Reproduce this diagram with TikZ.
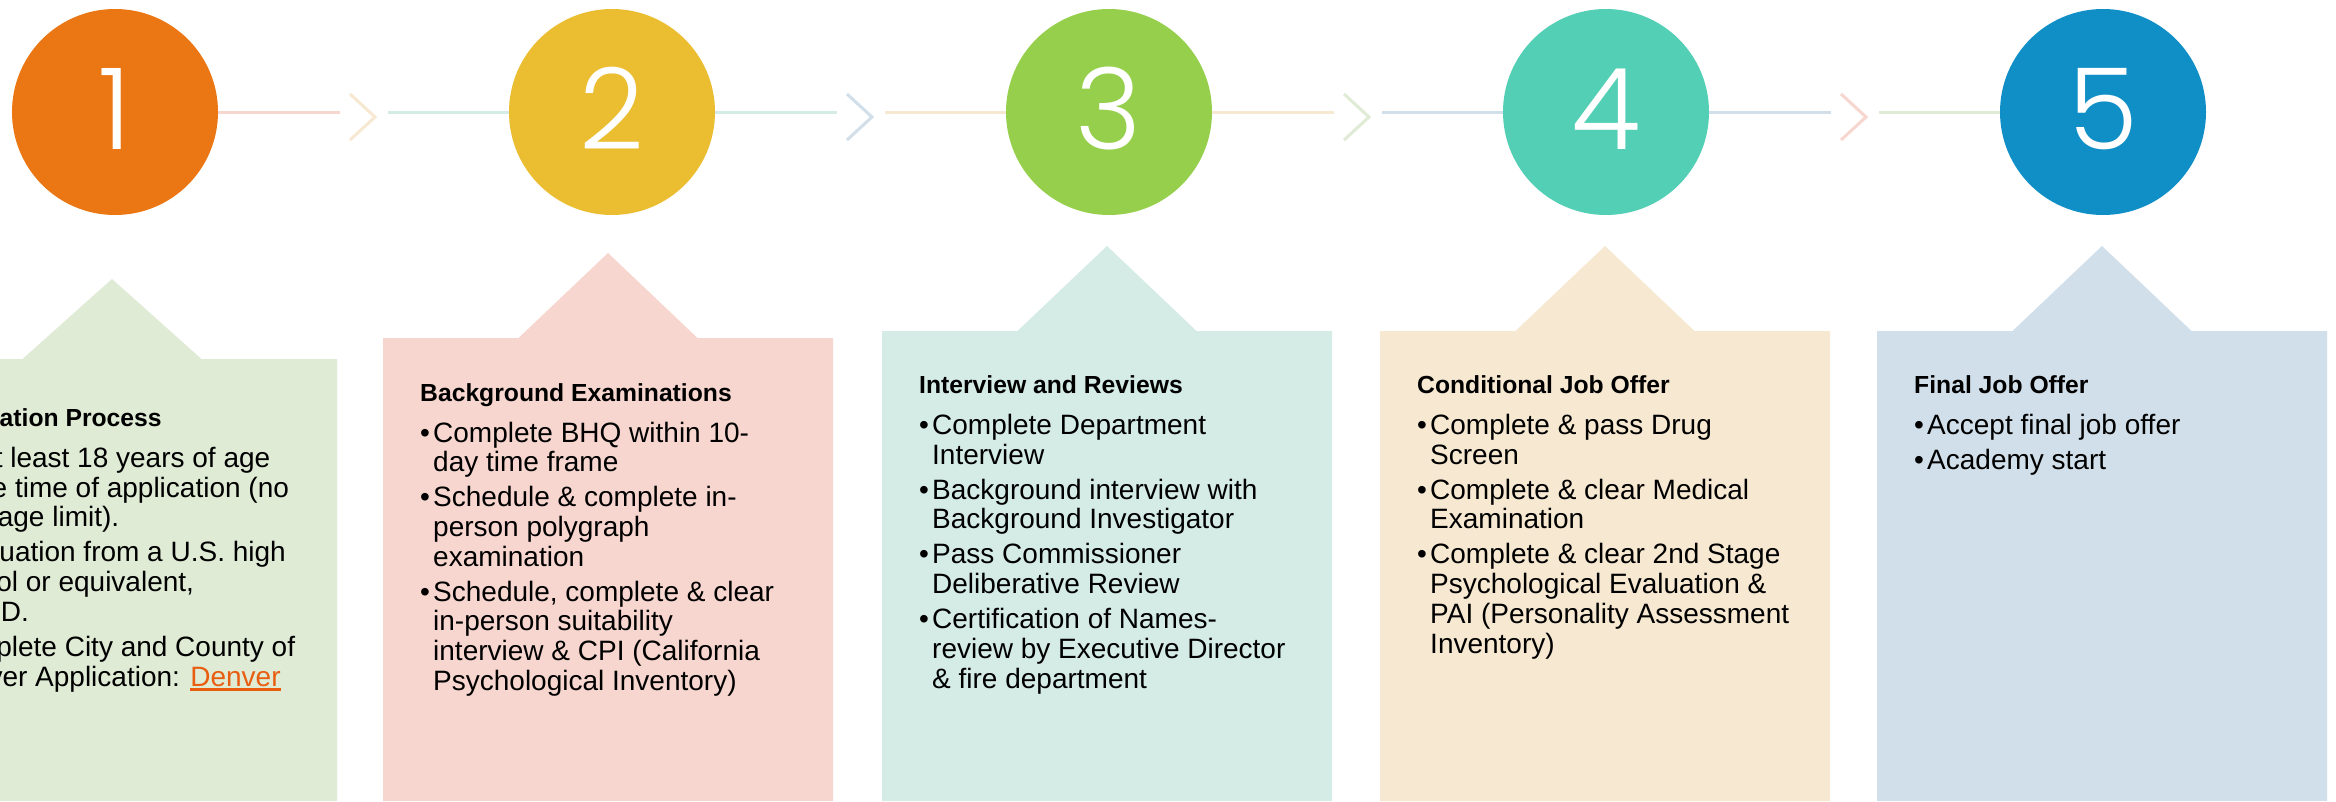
\documentclass[tikz,border=0pt]{standalone}
\usepackage{fontspec}
\setmainfont{Liberation Sans}
\IfFontExistsTF{Poppins Light}{\newfontfamily\numfont{Poppins Light}}{%
  \IfFontExistsTF{Fira Sans Light}{\newfontfamily\numfont{Fira Sans Light}}{%
    \newfontfamily\numfont{Liberation Sans}}}
\definecolor{cone}{HTML}{EB7714}
\definecolor{ctwo}{HTML}{EBBD30}
\definecolor{cthree}{HTML}{95CF4C}
\definecolor{cfour}{HTML}{52CFB4}
\definecolor{cfive}{HTML}{108FC7}
\definecolor{pgreen}{HTML}{DFEBD5}
\definecolor{ppink}{HTML}{F6D6CE}
\definecolor{pmint}{HTML}{D4ECE5}
\definecolor{pcream}{HTML}{F6E8D1}
\definecolor{pblue}{HTML}{D1DFEA}
\definecolor{linkor}{HTML}{E85D10}
\newcommand\ttlfont{\bfseries\fontsize{24.7}{29.7}\selectfont}
\newcommand\bdyfont{\normalfont\fontsize{28}{29.7}\selectfont}
\newcommand\itm[1]{\par\vspace{5.3pt}\hangindent=13pt\hangafter=1\noindent\makebox[13pt][l]{•}{\let\\\newline #1}\par}
\newcommand\ulink[1]{\textcolor{linkor}{\setbox0\hbox{#1}\rlap{\rule[-5pt]{\wd0}{2.6pt}}\box0}}
\newcommand\boxtext[2]{\parbox[t]{420pt}{\raggedright{\ttlfont #1\par}\bdyfont\vspace{6pt}#2}}
\tikzset{
  circ/.style={circle, minimum size=206pt, inner sep=0pt, draw=none},
  digit/.style={anchor=base, text=white, inner sep=0pt, font=\numfont\fontsize{113}{113}\selectfont},
  conn/.style={line width=3pt},
  chev/.style={line width=3pt, line join=miter},
  txt/.style={anchor=base west, inner sep=0pt},
}
\begin{document}
\begin{tikzpicture}[x=1pt, y=-1pt]
\path[use as bounding box] (0,0) rectangle (2336,801);
\clip (0,0) rectangle (2336,801);
\fill[white] (0,0) rectangle (2336,801);

% house-shaped panels
\fill[pgreen] (-113,801) -- (-113,359) -- (22.5,359) -- (112,279) -- (201.5,359) -- (337,359) -- (337,801) -- cycle;
\fill[ppink] (383,801) -- (383,338) -- (518.5,338) -- (608,253) -- (697.5,338) -- (833,338) -- (833,801) -- cycle;
\fill[pmint] (882,801) -- (882,331) -- (1017.5,331) -- (1107,246) -- (1196.5,331) -- (1332,331) -- (1332,801) -- cycle;
\fill[pcream] (1380,801) -- (1380,331) -- (1515.5,331) -- (1605,246) -- (1694.5,331) -- (1830,331) -- (1830,801) -- cycle;
\fill[pblue] (1877,801) -- (1877,331) -- (2012.5,331) -- (2102,246) -- (2191.5,331) -- (2327,331) -- (2327,801) -- cycle;

% circles
\node[circ, fill=cone] (c1) at (115,112) {};
\node[circ, fill=ctwo] (c2) at (612,112) {};
\node[circ, fill=cthree] (c3) at (1109,112) {};
\node[circ, fill=cfour] (c4) at (1606,112) {};
\node[circ, fill=cfive] (c5) at (2103,112) {};

% connector end points and chevrons
\coordinate (a1) at (340,112);  \coordinate (b2) at (388,112);
\coordinate (a2) at (837,112);  \coordinate (b3) at (885,112);
\coordinate (a3) at (1334,112); \coordinate (b4) at (1382,112);
\coordinate (a4) at (1831,112); \coordinate (b5) at (1879,112);
\coordinate (h1t) at (350,94);  \coordinate (h1) at (375,117);  \coordinate (h1b) at (350,140);
\coordinate (h2t) at (847,94);  \coordinate (h2) at (872,117);  \coordinate (h2b) at (847,140);
\coordinate (h3t) at (1344,94); \coordinate (h3) at (1369,117); \coordinate (h3b) at (1344,140);
\coordinate (h4t) at (1841,94); \coordinate (h4) at (1866,117); \coordinate (h4b) at (1841,140);

\draw[conn, ppink] (c1.east) -- (a1);
\draw[conn, pmint] (b2) -- (c2.west);
\draw[conn, pmint] (c2.east) -- (a2);
\draw[conn, pcream] (b3) -- (c3.west);
\draw[conn, pcream] (c3.east) -- (a3);
\draw[conn, pblue] (b4) -- (c4.west);
\draw[conn, pblue] (c4.east) -- (a4);
\draw[conn, pgreen] (b5) -- (c5.west);
\draw[chev, pcream] (h1t) -- (h1) -- (h1b);
\draw[chev, pblue] (h2t) -- (h2) -- (h2b);
\draw[chev, pgreen] (h3t) -- (h3) -- (h3b);
\draw[chev, ppink] (h4t) -- (h4) -- (h4b);

% digits
\node[digit] (n1) at (115,149) {1};
\node[digit] (n2) at (612,149) {2};
\node[digit] (n3) at (1109,149) {3};
\node[digit] (n4) at (1606,149) {4};
\node[digit] (n5) at (2103,149) {5};

% panel texts
\node[txt] (t1) at (-76,426.5) {\boxtext{Application Process}{%
  \itm{Be at least 18 years of age\\at the time of application (no\\max age limit).}%
  \itm{Graduation from a U.S. high\\school or equivalent,\\a GED.}%
  \itm{Complete City and County of\\Denver Application: \ulink{Denver}}}};
\node[txt] (t2) at (420,401) {\boxtext{Background Examinations}{%
  \itm{Complete BHQ within 10-\\day time frame}%
  \itm{Schedule \& complete in-\\person polygraph\\examination}%
  \itm{Schedule, complete \& clear\\in-person suitability\\interview \& CPI (California\\Psychological Inventory)}}};
\node[txt] (t3) at (919,393.5) {\boxtext{Interview and Reviews}{%
  \itm{Complete Department\\Interview}%
  \itm{Background interview with\\Background Investigator}%
  \itm{Pass Commissioner\\Deliberative Review}%
  \itm{Certification of Names-\\review by Executive Director\\\& fire department}}};
\node[txt] (t4) at (1417,393.5) {\boxtext{Conditional Job Offer}{%
  \itm{Complete \& pass Drug\\Screen}%
  \itm{Complete \& clear Medical\\Examination}%
  \itm{Complete \& clear 2nd Stage\\Psychological Evaluation \&\\PAI (Personality Assessment\\Inventory)}}};
\node[txt] (t5) at (1914,393.5) {\boxtext{Final Job Offer}{%
  \itm{Accept final job offer}%
  \itm{Academy start}}};
\end{tikzpicture}
\end{document}
